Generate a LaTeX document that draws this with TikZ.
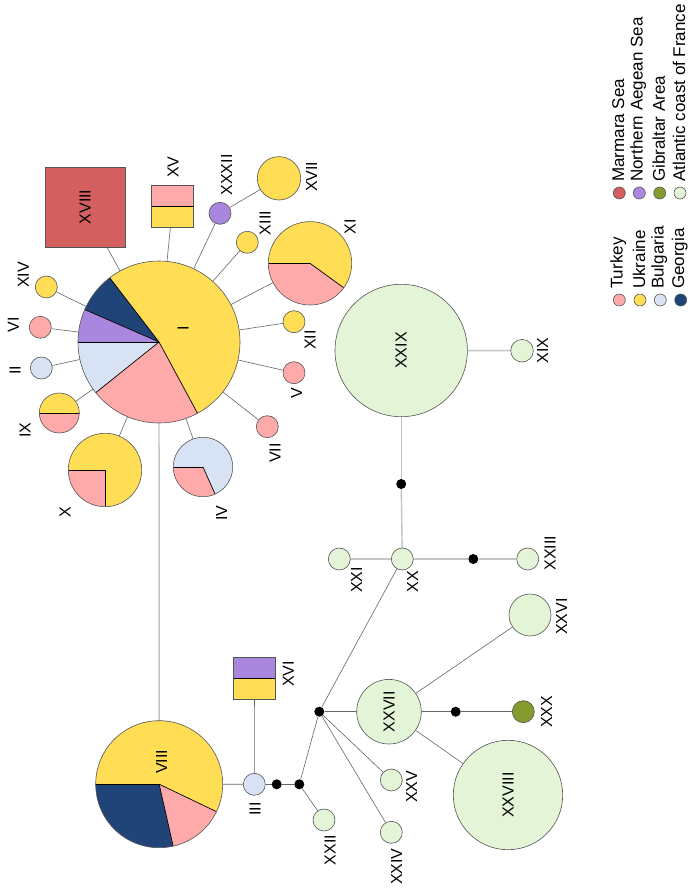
\documentclass[tikz,border=0pt]{standalone}
\usepackage{fontspec}
\newfontfamily\labfont{Liberation Sans}
\usetikzlibrary{backgrounds}
\definecolor{cyel}{HTML}{FFDD55}
\definecolor{cpink}{HTML}{FFAAAA}
\definecolor{clblue}{HTML}{D7E3F4}
\definecolor{cdblue}{HTML}{214478}
\definecolor{cpurp}{HTML}{AA87DE}
\definecolor{cred}{HTML}{D35F5F}
\definecolor{cgreen}{HTML}{849B2E}
\definecolor{clgreen}{HTML}{E3F4D7}
\definecolor{olc}{HTML}{555555}
\definecolor{lnk}{HTML}{666666}
\definecolor{glk}{HTML}{C4C4C4}
\newcommand\pieslc[3]{\fill[#3] (path picture bounding box.center) -- ++(#1:300pt) arc[start angle=#1,end angle=#2,radius=300pt] -- cycle;}
\newcommand\pieln[1]{\draw[black,line width=0.7pt] (path picture bounding box.center) -- ++(#1:300pt);}
\tikzset{
  hap/.style={circle, draw=olc, line width=0.6pt, inner sep=0pt, minimum size=#1},
  sqn/.style={rectangle, draw=olc, line width=0.6pt, inner sep=0pt, minimum size=#1},
  lab/.style={rotate=90, font=\labfont\fontsize{16}{18}\selectfont, inner sep=1pt},
  leg/.style={rotate=90, anchor=west, font=\labfont\fontsize{17}{19}\selectfont, inner sep=1pt},
  legc/.style={circle, draw=olc, line width=0.6pt, inner sep=0pt, minimum size=12},
  link/.style={draw=lnk, line width=0.6pt},
  glink/.style={draw=glk, line width=1.4pt},
  dotn/.style={circle, fill=black, inner sep=0pt, minimum size=10}
}
\begin{document}
\begin{tikzpicture}[x=1pt,y=1pt]
\begin{pgfonlayer}{background}
\path[use as bounding box, fill=white] (0,0) rectangle (687,-891);
\end{pgfonlayer}
% ---- central cluster ----
\node[hap=162, path picture={\pieslc{-61.6}{127.5}{cyel}\pieslc{127.5}{156.4}{cdblue}\pieslc{156.4}{180}{cpurp}\pieslc{180}{218.7}{clblue}\pieslc{218.7}{298.4}{cpink}\pieln{127.5}\pieln{156.4}\pieln{180}\pieln{218.7}\pieln{298.4}}] (I) at (159,-342) {};
\node[sqn=80, fill=cred] (XVIII) at (85,-207) {};
\node[sqn=42, path picture={\fill[cyel] (path picture bounding box.south west) rectangle (path picture bounding box.north east);\fill[cpink] (path picture bounding box.north west) rectangle (path picture bounding box.east);\draw[black,line width=0.6pt] (path picture bounding box.west) -- (path picture bounding box.east);}] (XV) at (172.5,-206) {};
\node[hap=22, fill=cpurp] (XXXII) at (220,-213.3) {};
\node[hap=43.4, fill=cyel] (XVII) at (279,-178.3) {};
\node[hap=22, fill=cyel] (XIII) at (247.3,-242.3) {};
\node[hap=83.4, path picture={\pieslc{-36}{180}{cyel}\pieslc{180}{324}{cpink}\pieln{180}\pieln{324}}] (XI) at (310,-263.3) {};
\node[hap=22, fill=cyel] (XII) at (294,-321.7) {};
\node[hap=22, fill=cpink] (V) at (294,-372.7) {};
\node[hap=22, fill=cpink] (VII) at (267.3,-426.7) {};
\node[hap=59.4, path picture={\pieslc{-66}{180}{clblue}\pieslc{180}{294}{cpink}\pieln{180}\pieln{294}}] (IV) at (203,-467) {};
\node[hap=73.4, path picture={\pieslc{-90}{180}{cyel}\pieslc{180}{270}{cpink}\pieln{180}\pieln{270}}] (X) at (105,-470) {};
\node[hap=40, path picture={\pieslc{0}{180}{cyel}\pieslc{180}{360}{cpink}\pieln{180}\pieln{0}}] (IX) at (59.3,-413) {};
\node[hap=22, fill=clblue] (II) at (41.3,-368) {};
\node[hap=22, fill=cpink] (VI) at (40.3,-327.3) {};
\node[hap=22, fill=cyel] (XIV) at (46.3,-287) {};
% ---- lower-left ----
\node[hap=127, path picture={\pieslc{-25.6}{180}{cyel}\pieslc{180}{282.7}{cdblue}\pieslc{282.7}{334.4}{cpink}\pieln{180}\pieln{282.7}\pieln{334.4}}] (VIII) at (159.2,-784.2) {};
\node[hap=22, fill=clblue] (III) at (254.3,-784.3) {};
\node[sqn=42, path picture={\fill[cyel] (path picture bounding box.south west) rectangle (path picture bounding box.north east);\fill[cpurp] (path picture bounding box.north west) rectangle (path picture bounding box.east);\draw[black,line width=0.6pt] (path picture bounding box.west) -- (path picture bounding box.east);}] (XVI) at (254.5,-678) {};
\node[dotn] (d1) at (276.7,-784.3) {};
\node[dotn] (d2) at (299.3,-784.3) {};
\node[dotn] (d3) at (319.3,-711.7) {};
\node[dotn] (d4) at (455.7,-711.7) {};
\node[dotn] (d5) at (401.2,-484) {};
\node[dotn] (d6) at (473.3,-559) {};
\node[hap=22, fill=clgreen] (XXII) at (324,-820) {};
\node[hap=22, fill=clgreen] (XX) at (402.3,-559) {};
\node[hap=64.6, fill=clgreen] (XXVII) at (389,-711.7) {};
\node[hap=22, fill=clgreen] (XXV) at (391.3,-780) {};
\node[hap=22, fill=clgreen] (XXIV) at (391.3,-832.3) {};
\node[hap=22, fill=clgreen] (XXI) at (339.3,-559) {};
\node[hap=22, fill=clgreen] (XXIII) at (527.7,-559) {};
\node[hap=42, fill=clgreen] (XXVI) at (530,-615) {};
\node[hap=22, fill=cgreen] (XXX) at (523.3,-711.7) {};
\node[hap=109.4, fill=clgreen] (XXVIII) at (508,-795) {};
\node[hap=132.4, fill=clgreen] (XXIX) at (401.2,-350.5) {};
\node[hap=22.6, fill=clgreen] (XIX) at (522,-350.7) {};
% ---- connectors ----
\begin{pgfonlayer}{background}
\foreach \t in {XVIII,XV,XXXII,XIII,XI,XII,V,VII,IV,X,IX,II,VI,XIV}{\path[link] (I) -- (\t);}
\path[link] (XXXII) -- (XVII);
\path[glink] (I) -- (VIII);
\path[link] (VIII) -- (III);
\path[link] (XVI) -- (III);
\path[link] (III) -- (d1);
\path[link] (d1) -- (d2);
\path[link] (d2) -- (XXII);
\path[link] (d2) -- (d3);
\path[link] (d3) -- (XX);
\path[link] (d3) -- (XXVII);
\path[link] (d3) -- (XXV);
\path[link] (d3) -- (XXIV);
\path[link] (XXVII) -- (XXVI);
\path[link] (XXVII) -- (d4);
\path[link] (d4) -- (XXX);
\path[link] (XXVII) -- (XXVIII);
\path[glink] (XXIX) -- (XIX);
\path[glink] (XXIX) -- (d5);
\path[glink] (d5) -- (XX);
\path[glink] (XX) -- (XXI);
\path[glink] (XX) -- (d6);
\path[glink] (d6) -- (XXIII);
\end{pgfonlayer}
% ---- labels ----
\node[lab] (lI) at (183,-328) {I};
\node[lab] (lXVIII) at (85,-207) {XVIII};
\node[lab] (lXV) at (173,-167) {XV};
\node[lab] (lXXXII) at (226.7,-175) {XXXII};
\node[lab] (lXVII) at (311.7,-176.7) {XVII};
\node[lab] (lXIII) at (265,-223) {XIII};
\node[lab] (lXI) at (350,-227) {XI};
\node[lab] (lXII) at (310,-340) {XII};
\node[lab] (lV) at (296.7,-393) {V};
\node[lab] (lVII) at (275,-453) {VII};
\node[lab] (lIV) at (221.7,-513) {IV};
\node[lab] (lX) at (65,-511.7) {X};
\node[lab] (lIX) at (25,-430) {IX};
\node[lab] (lII) at (15,-370) {II};
\node[lab] (lVI) at (13.3,-325) {VI};
\node[lab] (lXIV) at (23.3,-275) {XIV};
\node[lab] (lVIII) at (161.7,-761.7) {VIII};
\node[lab] (lIII) at (255,-809) {III};
\node[lab] (lXVI) at (288.3,-674) {XVI};
\node[lab] (lXXII) at (330,-850) {XXII};
\node[lab] (lXX) at (412.7,-581.7) {XX};
\node[lab] (lXXVII) at (389,-711.7) {XXVII};
\node[lab] (lXXV) at (411.7,-786.7) {XXV};
\node[lab] (lXXIV) at (396.7,-866.7) {XXIV};
\node[lab] (lXXI) at (356.7,-580) {XXI};
\node[lab] (lXXIII) at (550,-553.3) {XXIII};
\node[lab] (lXXVI) at (561.7,-616.7) {XXVI};
\node[lab] (lXXX) at (546.7,-711.7) {XXX};
\node[lab] (lXXVIII) at (508,-795) {XXVIII};
\node[lab] (lXXIX) at (401.2,-350.5) {XXIX};
\node[lab] (lXIX) at (542.7,-350.7) {XIX};
% ---- legend ----
\node[legc, fill=cpink] (gT) at (619.3,-300) {};
\node[legc, fill=cyel] (gU) at (640,-300) {};
\node[legc, fill=clblue] (gB) at (660.3,-300) {};
\node[legc, fill=cdblue] (gG) at (680.7,-300) {};
\node[leg] (tT) at (618.3,-290) {Turkey};
\node[leg] (tU) at (639,-290) {Ukraine};
\node[leg] (tB) at (659.3,-290) {Bulgaria};
\node[leg] (tG) at (679.7,-290) {Georgia};
\node[legc, fill=cred] (gM) at (619.3,-193) {};
\node[legc, fill=cpurp] (gN) at (639.3,-193) {};
\node[legc, fill=cgreen] (gGi) at (659.7,-193) {};
\node[legc, fill=clgreen] (gA) at (680,-193) {};
\node[leg] (tM) at (618.3,-183) {Marmara Sea};
\node[leg] (tN) at (638.3,-183) {Northern Aegean Sea};
\node[leg] (tGi) at (658.7,-183) {Gibraltar Area};
\node[leg] (tA) at (679,-183) {Atlantic coast of France};
\end{tikzpicture}
\end{document}
